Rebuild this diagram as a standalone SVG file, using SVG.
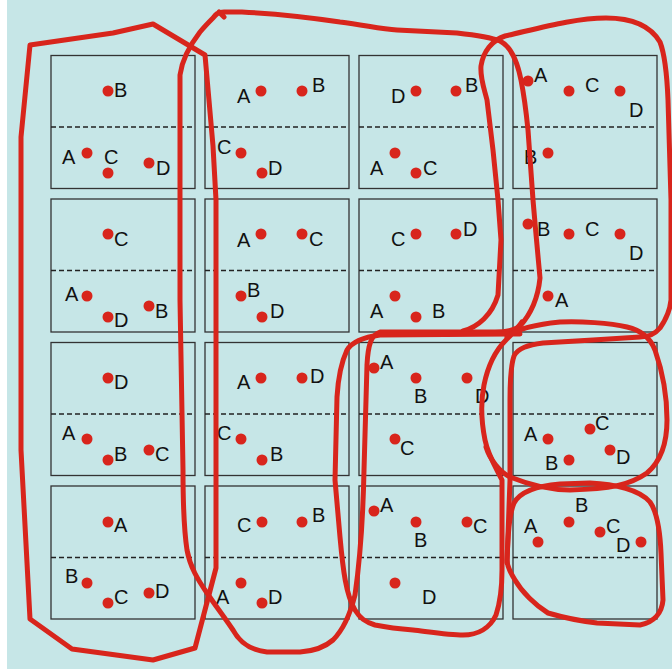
<svg xmlns="http://www.w3.org/2000/svg" width="672" height="669" viewBox="0 0 672 669">
<style>
.box{fill:none;stroke:#333;stroke-width:1.3}
.dash{stroke:#222;stroke-width:1.3;stroke-dasharray:5 3}
.dot{fill:#d8251c}
text{font-family:"Liberation Sans",Arial,sans-serif;font-size:20px;fill:#111}
.loop{fill:none;stroke:#d8251c;stroke-width:5;stroke-linejoin:round;stroke-linecap:round}
</style>
<defs>
<g id="frame"><rect class="box" x="0" y="0" width="144" height="133"/><line class="dash" x1="0" y1="71.5" x2="144" y2="71.5"/></g>
</defs>
<rect x="0" y="0" width="672" height="669" fill="#ffffff"/>
<rect x="7" y="0" width="665" height="669" fill="#c6e6e7"/>

<g id="box1"><use href="#frame" x="51" y="55.5"/>
<circle class="dot" cx="108" cy="91" r="5.5"/><text x="114" y="97">B</text>
<circle class="dot" cx="87" cy="153" r="5.5"/><text x="62" y="164">A</text>
<circle class="dot" cx="108" cy="173" r="5.5"/><text x="104" y="164">C</text>
<circle class="dot" cx="149" cy="163" r="5.5"/><text x="156" y="175">D</text></g>

<g id="box2"><use href="#frame" x="205" y="55.5"/>
<circle class="dot" cx="261" cy="91" r="5.5"/><text x="237" y="103">A</text>
<circle class="dot" cx="302" cy="91" r="5.5"/><text x="312" y="92">B</text>
<circle class="dot" cx="241" cy="153" r="5.5"/><text x="217" y="154">C</text>
<circle class="dot" cx="262" cy="173" r="5.5"/><text x="268" y="175">D</text></g>

<g id="box3"><use href="#frame" x="359" y="55.5"/>
<circle class="dot" cx="416" cy="91" r="5.5"/><text x="391" y="103">D</text>
<circle class="dot" cx="456" cy="91" r="5.5"/><text x="465" y="92">B</text>
<circle class="dot" cx="395" cy="153" r="5.5"/><text x="370" y="175">A</text>
<circle class="dot" cx="416" cy="173" r="5.5"/><text x="423" y="175">C</text></g>

<g id="box4"><use href="#frame" x="513" y="55.5"/>
<circle class="dot" cx="528" cy="81" r="5.5"/><text x="534" y="82">A</text>
<circle class="dot" cx="569" cy="91" r="5.5"/><text x="585" y="92">C</text>
<circle class="dot" cx="620" cy="91" r="5.5"/><text x="629" y="117">D</text>
<circle class="dot" cx="548" cy="153" r="5.5"/><text x="524" y="164">B</text></g>

<g id="box5"><use href="#frame" x="51" y="199"/>
<circle class="dot" cx="108" cy="234" r="5.5"/><text x="114" y="246">C</text>
<circle class="dot" cx="87" cy="296" r="5.5"/><text x="65" y="301">A</text>
<circle class="dot" cx="108" cy="317" r="5.5"/><text x="114" y="327">D</text>
<circle class="dot" cx="149" cy="306" r="5.5"/><text x="155" y="318">B</text></g>

<g id="box6"><use href="#frame" x="205" y="199"/>
<circle class="dot" cx="261" cy="234" r="5.5"/><text x="237" y="247">A</text>
<circle class="dot" cx="302" cy="234" r="5.5"/><text x="309" y="246">C</text>
<circle class="dot" cx="241" cy="296" r="5.5"/><text x="247" y="297">B</text>
<circle class="dot" cx="262" cy="317" r="5.5"/><text x="270" y="318">D</text></g>

<g id="box7"><use href="#frame" x="359" y="199"/>
<circle class="dot" cx="416" cy="234" r="5.5"/><text x="391" y="246">C</text>
<circle class="dot" cx="456" cy="234" r="5.5"/><text x="463" y="236">D</text>
<circle class="dot" cx="395" cy="296" r="5.5"/><text x="370" y="318">A</text>
<circle class="dot" cx="416" cy="317" r="5.5"/><text x="432" y="318">B</text></g>

<g id="box8"><use href="#frame" x="513" y="199"/>
<circle class="dot" cx="528" cy="224" r="5.5"/><text x="537" y="236">B</text>
<circle class="dot" cx="569" cy="234" r="5.5"/><text x="585" y="236">C</text>
<circle class="dot" cx="620" cy="234" r="5.5"/><text x="629" y="260">D</text>
<circle class="dot" cx="548" cy="296" r="5.5"/><text x="555" y="307">A</text></g>

<g id="box9"><use href="#frame" x="51" y="342.5"/>
<circle class="dot" cx="108" cy="378" r="5.5"/><text x="114" y="389">D</text>
<circle class="dot" cx="87" cy="439" r="5.5"/><text x="62" y="440">A</text>
<circle class="dot" cx="108" cy="460" r="5.5"/><text x="114" y="461">B</text>
<circle class="dot" cx="149" cy="450" r="5.5"/><text x="155" y="461">C</text></g>

<g id="box10"><use href="#frame" x="205" y="342.5"/>
<circle class="dot" cx="261" cy="378" r="5.5"/><text x="237" y="389">A</text>
<circle class="dot" cx="302" cy="378" r="5.5"/><text x="310" y="383">D</text>
<circle class="dot" cx="241" cy="439" r="5.5"/><text x="217" y="440">C</text>
<circle class="dot" cx="262" cy="460" r="5.5"/><text x="270" y="461">B</text></g>

<g id="box11"><use href="#frame" x="359" y="342.5"/>
<circle class="dot" cx="374" cy="368" r="5.5"/><text x="380" y="369">A</text>
<circle class="dot" cx="416" cy="378" r="5.5"/><text x="414" y="403">B</text>
<circle class="dot" cx="467" cy="378" r="5.5"/><text x="475" y="403">D</text>
<circle class="dot" cx="395" cy="439" r="5.5"/><text x="400" y="455">C</text></g>

<g id="box12"><use href="#frame" x="513" y="342.5"/>
<circle class="dot" cx="548" cy="439" r="5.5"/><text x="524" y="441">A</text>
<circle class="dot" cx="590" cy="429" r="5.5"/><text x="595" y="430">C</text>
<circle class="dot" cx="569" cy="460" r="5.5"/><text x="545" y="470">B</text>
<circle class="dot" cx="610" cy="450" r="5.5"/><text x="616" y="464">D</text></g>

<g id="box13"><use href="#frame" x="51" y="486"/>
<circle class="dot" cx="108" cy="522" r="5.5"/><text x="114" y="532">A</text>
<circle class="dot" cx="87" cy="583" r="5.5"/><text x="65" y="583">B</text>
<circle class="dot" cx="108" cy="603" r="5.5"/><text x="114" y="604">C</text>
<circle class="dot" cx="149" cy="593" r="5.5"/><text x="155" y="598">D</text></g>

<g id="box14"><use href="#frame" x="205" y="486"/>
<circle class="dot" cx="262" cy="522" r="5.5"/><text x="237" y="532">C</text>
<circle class="dot" cx="302" cy="522" r="5.5"/><text x="312" y="522">B</text>
<circle class="dot" cx="241" cy="583" r="5.5"/><text x="216" y="604">A</text>
<circle class="dot" cx="262" cy="603" r="5.5"/><text x="268" y="604">D</text></g>

<g id="box15"><use href="#frame" x="359" y="486"/>
<circle class="dot" cx="374" cy="511" r="5.5"/><text x="380" y="512">A</text>
<circle class="dot" cx="416" cy="522" r="5.5"/><text x="414" y="547">B</text>
<circle class="dot" cx="467" cy="522" r="5.5"/><text x="473" y="533">C</text>
<circle class="dot" cx="395" cy="583" r="5.5"/><text x="422" y="604">D</text></g>

<g id="box16"><use href="#frame" x="513" y="486"/>
<circle class="dot" cx="538" cy="542" r="5.5"/><text x="524" y="533">A</text>
<circle class="dot" cx="569" cy="522" r="5.5"/><text x="575" y="512">B</text>
<circle class="dot" cx="600" cy="532" r="5.5"/><text x="606" y="533">C</text>
<circle class="dot" cx="641" cy="542" r="5.5"/><text x="616" y="552">D</text></g>

<g id="loops">
<path class="loop" d="M30,45 L113,33 L153,24 L205,55 L213,146 L216,200 L216,568 L195,648 L153,660 L72,649 L30,619 L21,450 L21,137 Z"/>
<path class="loop" d="M213,18 C216,14 218,12 224,12 L242,12 C280,14 320,19 340,22 C365,25 380,29 397,30 C420,31 440,32 457,33 C475,35 490,37 500,41 C510,46 517,60 521,80 C524,95 526,110 528,130 L533,200 C535,225 538,255 540,278 C538,298 530,315 520,326 C514,331 506,332 495,332 L380,332 C371,335 368,345 367,365 L364,470 C363,520 360,560 355,595 C350,615 343,630 333,640 C325,647 315,651 300,652 L267,652 C250,650 240,643 233,630 C225,618 215,605 207,593 C198,580 190,567 187,550 C184,530 183,500 183,470 L180,300 L180,75 C182,60 190,45 200,32 C205,26 210,21 213,18 Z M219,12 L224,17"/>
<path class="loop" d="M463,331 C478,327 492,315 498,295 L501,240 L498,200 L493,150 L487,100 C484,88 480,78 481,66 C483,52 492,40 505,36 C540,28 575,18 606,18 C630,18 650,25 660,42 C665,55 667,75 668,100 L671,200 L671,300 C670,310 667,318 660,328 C655,334 648,337 640,337 L593,340 L543,343 C528,345 518,348 514,356 C511,365 510,380 510,400 L510,480 L507,563"/>
<path class="loop" d="M520,334 L380,335 C365,337 352,342 347,350 C340,365 338,380 337,397 L335,480 L340,537 C343,570 346,595 355,610 C360,618 365,622 375,625 C390,628 400,629 413,630 C430,632 450,635 463,635 C478,635 490,628 496,615 C501,600 502,585 502,570 L502,480 C496,468 488,455 485,440 C481,420 481,400 484,385 C488,365 496,350 506,340 C512,334 518,328 522,322"/>
<path class="loop" d="M507,337 C515,330 530,325 560,322 C580,321 610,323 627,327 C640,330 650,337 655,350 C662,370 667,395 667,420 C667,445 660,462 647,473 C630,485 610,489 570,490 C550,490 530,485 510,477 C500,472 490,460 486,447"/>
<path class="loop" d="M507,560 C508,535 509,515 514,503 C520,492 535,486 560,484 L590,483 C615,484 640,490 650,502 C657,512 660,530 661,553 L663,600 C662,612 655,622 640,625 L597,623 C580,621 565,618 548,613 C535,605 522,592 515,580 C510,572 507,565 507,560 Z"/>
</g>
</svg>
